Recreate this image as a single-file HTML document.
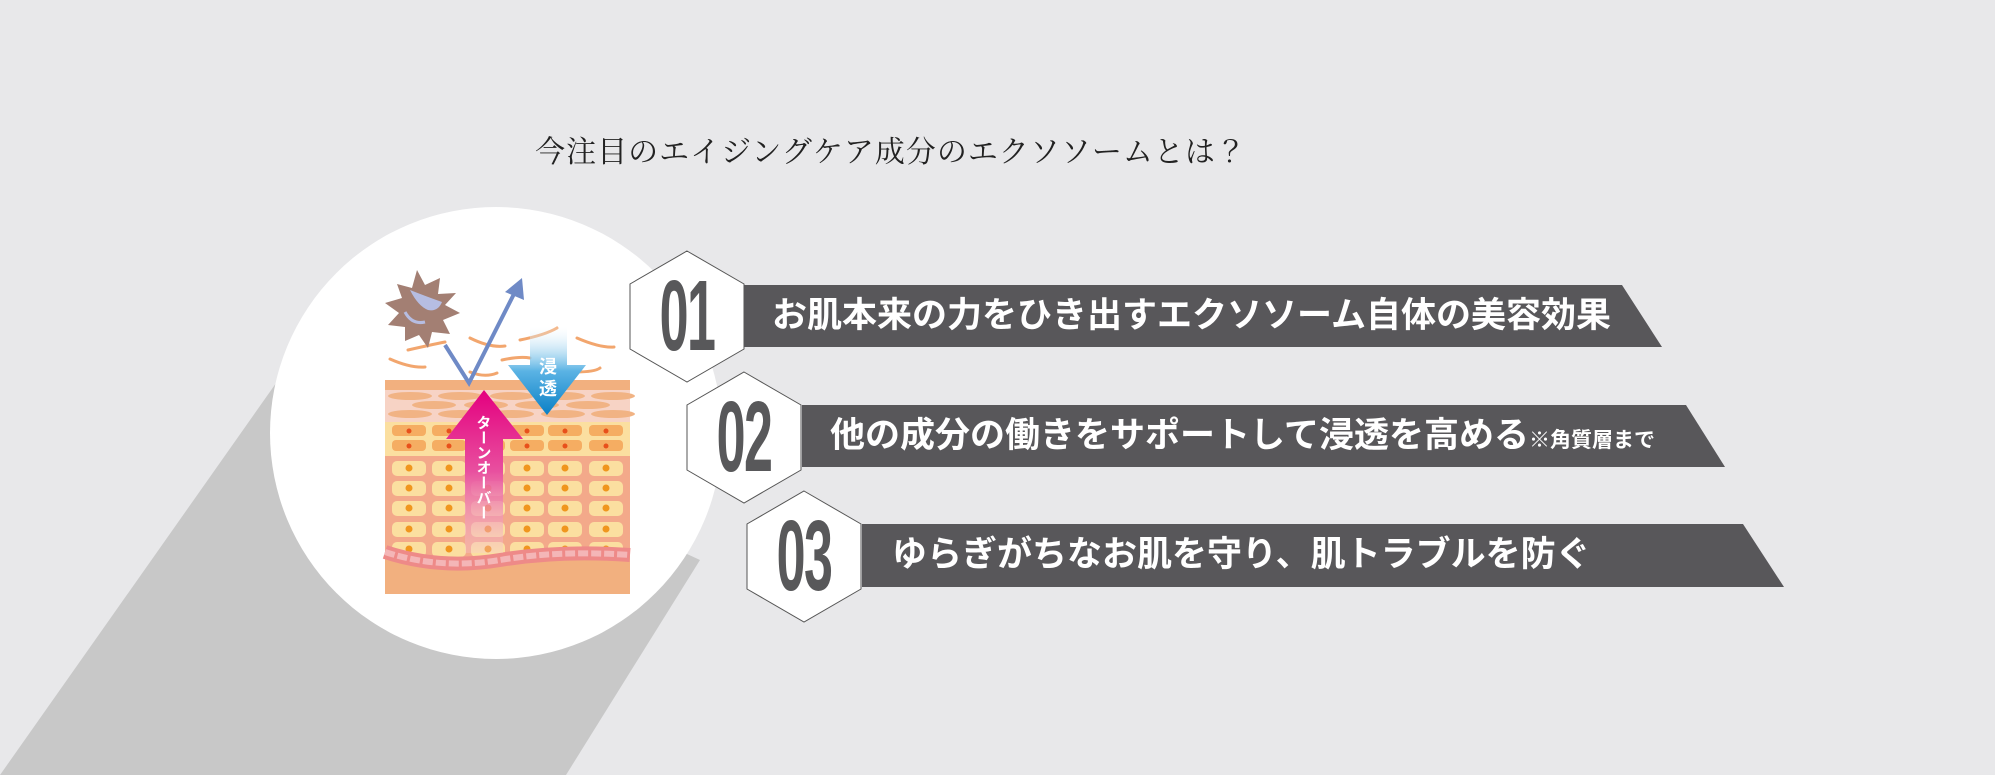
<!DOCTYPE html>
<html><head><meta charset="utf-8"><style>
html,body{margin:0;padding:0}
body{width:1995px;height:775px;overflow:hidden;background:#e8e8ea;position:relative;font-family:"Liberation Sans","Noto Sans CJK JP",sans-serif}
.title{position:absolute;left:0;width:1782px;text-align:center;top:127px;font-family:"Liberation Serif","Noto Serif CJK JP",serif;font-size:30px;letter-spacing:1px;color:#222}
.bt{position:absolute;color:#fff;font-weight:bold;font-size:35px;white-space:nowrap;line-height:62px;height:62px}
.num{position:absolute;font-weight:bold;color:#58585a;font-size:100px;line-height:130px;transform:scaleX(0.52);transform-origin:center;width:160px;text-align:center;letter-spacing:-3px}
</style></head><body>
<svg width="1995" height="775" style="position:absolute;left:0;top:0">
<defs>
<linearGradient id="bl" x1="0" y1="0" x2="0" y2="1"><stop offset="0" stop-color="#fff" stop-opacity="0.2"/><stop offset="0.5" stop-color="#5bb3e4"/><stop offset="1" stop-color="#0a80c6"/></linearGradient>
<linearGradient id="pk" x1="0" y1="0" x2="0" y2="1"><stop offset="0" stop-color="#e4007f"/><stop offset="0.5" stop-color="#e8509f"/><stop offset="1" stop-color="#f6c7d7" stop-opacity="0.3"/></linearGradient>
</defs>
<polygon points="0,775 286,369 700,560 566,775" fill="#c8c8c8"/>
<circle cx="496" cy="433" r="226" fill="#fff"/>
<rect x="385" y="380" width="245" height="214" fill="#f2b07f"/>
<rect x="385" y="390" width="245" height="32" fill="#f7d3c5"/>
<g fill="#f1b384">
<ellipse cx="410" cy="396" rx="22" ry="4"/><ellipse cx="460" cy="396" rx="22" ry="4"/><ellipse cx="512" cy="396" rx="22" ry="4"/><ellipse cx="563" cy="396" rx="22" ry="4"/><ellipse cx="613" cy="396" rx="22" ry="4"/>
<ellipse cx="434" cy="405" rx="22" ry="4"/><ellipse cx="486" cy="405" rx="22" ry="4"/><ellipse cx="537" cy="405" rx="22" ry="4"/><ellipse cx="588" cy="405" rx="22" ry="4"/>
<ellipse cx="410" cy="414" rx="22" ry="4"/><ellipse cx="460" cy="414" rx="22" ry="4"/><ellipse cx="512" cy="414" rx="22" ry="4"/><ellipse cx="563" cy="414" rx="22" ry="4"/><ellipse cx="613" cy="414" rx="22" ry="4"/>
</g>
<rect x="385" y="422" width="245" height="34" fill="#fbdfa0"/>
<rect x="385" y="456" width="245" height="110" fill="#f3a98a"/>
<g id="gr">
<rect x="392" y="425" width="34" height="11" rx="4" fill="#f5ad62"/><rect x="432" y="425" width="34" height="11" rx="4" fill="#f5ad62"/><rect x="471" y="425" width="34" height="11" rx="4" fill="#f5ad62"/><rect x="510" y="425" width="34" height="11" rx="4" fill="#f5ad62"/><rect x="548" y="425" width="34" height="11" rx="4" fill="#f5ad62"/><rect x="589" y="425" width="34" height="11" rx="4" fill="#f5ad62"/>
</g>
<use href="#gr" y="15"/>
<g fill="#e8501b"><circle cx="409" cy="431" r="2.5"/><circle cx="449" cy="431" r="2.5"/><circle cx="527" cy="431" r="2.5"/><circle cx="565" cy="431" r="2.5"/><circle cx="606" cy="431" r="2.5"/>
<circle cx="409" cy="446" r="2.5"/><circle cx="449" cy="446" r="2.5"/><circle cx="527" cy="446" r="2.5"/><circle cx="565" cy="446" r="2.5"/><circle cx="606" cy="446" r="2.5"/></g>
<g id="sr"><rect x="392" y="461" width="34" height="15" rx="5" fill="#fbdfa0"/><rect x="432" y="461" width="34" height="15" rx="5" fill="#fbdfa0"/><rect x="471" y="461" width="34" height="15" rx="5" fill="#fbdfa0"/><rect x="510" y="461" width="34" height="15" rx="5" fill="#fbdfa0"/><rect x="548" y="461" width="34" height="15" rx="5" fill="#fbdfa0"/><rect x="589" y="461" width="34" height="15" rx="5" fill="#fbdfa0"/>
<g fill="#f0961e"><circle cx="409" cy="468" r="3.5"/><circle cx="449" cy="468" r="3.5"/><circle cx="488" cy="468" r="3.5"/><circle cx="527" cy="468" r="3.5"/><circle cx="565" cy="468" r="3.5"/><circle cx="606" cy="468" r="3.5"/></g></g>
<use href="#sr" y="20"/><use href="#sr" y="40"/><use href="#sr" y="61"/><use href="#sr" y="81"/>
<path d="M385,552 Q440,570 500,560 T630,555 L630,594 L385,594 Z" fill="#f2b07f"/>
<path d="M385,552 Q440,570 500,560 T630,555" stroke="#ee8a88" stroke-width="14" fill="none"/>
<path d="M385,552 Q440,570 500,560 T630,555" stroke="#f4b6b7" stroke-width="6" stroke-dasharray="10 3" fill="none"/>
<g stroke="#f2a66e" stroke-width="3" fill="none" stroke-linecap="round">
<path d="M390,359 Q410,368 425,367"/><path d="M408,350 Q430,345 445,342"/><path d="M470,338 Q490,348 505,346"/><path d="M502,360 Q520,356 530,358"/><path d="M520,340 Q545,335 557,328"/><path d="M577,338 Q600,348 614,347"/><path d="M470,372 Q485,378 497,373"/><path d="M575,372 Q595,372 600,368"/>
</g>
<polygon points="417,270 425,285 440,278 438,294 456,293 445,305 460,313 443,320 450,334 432,332 428,348 419,335 405,341 405,327 388,325 399,313 385,303 402,298 397,284 412,288" fill="#a37f73"/>
<path d="M410,290 Q425,296 442,302 Q438,312 428,310 Q418,306 410,290Z" fill="#b6bde2"/>
<path d="M405,312 Q412,325 425,322" stroke="#b6bde2" stroke-width="3" fill="none"/>
<polyline points="445,345 469,383 515,292" stroke="#6f8ac6" stroke-width="4" fill="none"/>
<polygon points="522,278 524,300 505,292" fill="#6f8ac6"/>
<polygon points="530,327 567,327 567,365 586,365 547,415 508,365 530,365" fill="url(#bl)"/>
<text x="548" y="373" fill="#fff" font-size="18" font-weight="bold" text-anchor="middle" font-family="Noto Sans CJK JP,sans-serif">浸</text>
<text x="548" y="395" fill="#fff" font-size="18" font-weight="bold" text-anchor="middle" font-family="Noto Sans CJK JP,sans-serif">透</text>
<polygon points="484,390 523,439 503,439 503,553 465,553 465,439 446,439" fill="url(#pk)"/>
<text fill="#fff" font-size="15" font-weight="bold" font-family="Noto Sans CJK JP,sans-serif" x="484" y="415" style="writing-mode:vertical-rl">ターンオーバー</text>
<g fill="#fff" stroke="#555" stroke-width="1">
<polygon points="687,251 744,284 744,349 687,382 630,349 630,284"/>
<polygon points="744,372 801,405 801,470 744,503 687,470 687,405"/>
<polygon points="804,491 861,524 861,589 804,622 747,589 747,524"/>
</g>
<polygon points="744,285 1622,285 1662,347 744,347" fill="#58575a"/>
<polygon points="802,405 1686,405 1725,467 802,467" fill="#58575a"/>
<polygon points="862,524 1743,524 1784,587 862,587" fill="#58575a"/>
</svg>
<div class="title">今注目のエイジングケア成分のエクソソームとは？</div>
<div class="num" style="left:607px;top:251px">01</div>
<div class="num" style="left:664px;top:372px">02</div>
<div class="num" style="left:724px;top:491px">03</div>
<div class="bt" style="left:772px;top:285px">お肌本来の力をひき出すエクソソーム自体の美容効果</div>
<div class="bt" style="left:830px;top:405px">他の成分の働きをサポートして浸透を高める<span style="font-size:21px">※角質層まで</span></div>
<div class="bt" style="left:892px;top:524px">ゆらぎがちなお肌を守り、肌トラブルを防ぐ</div>
</body></html>
